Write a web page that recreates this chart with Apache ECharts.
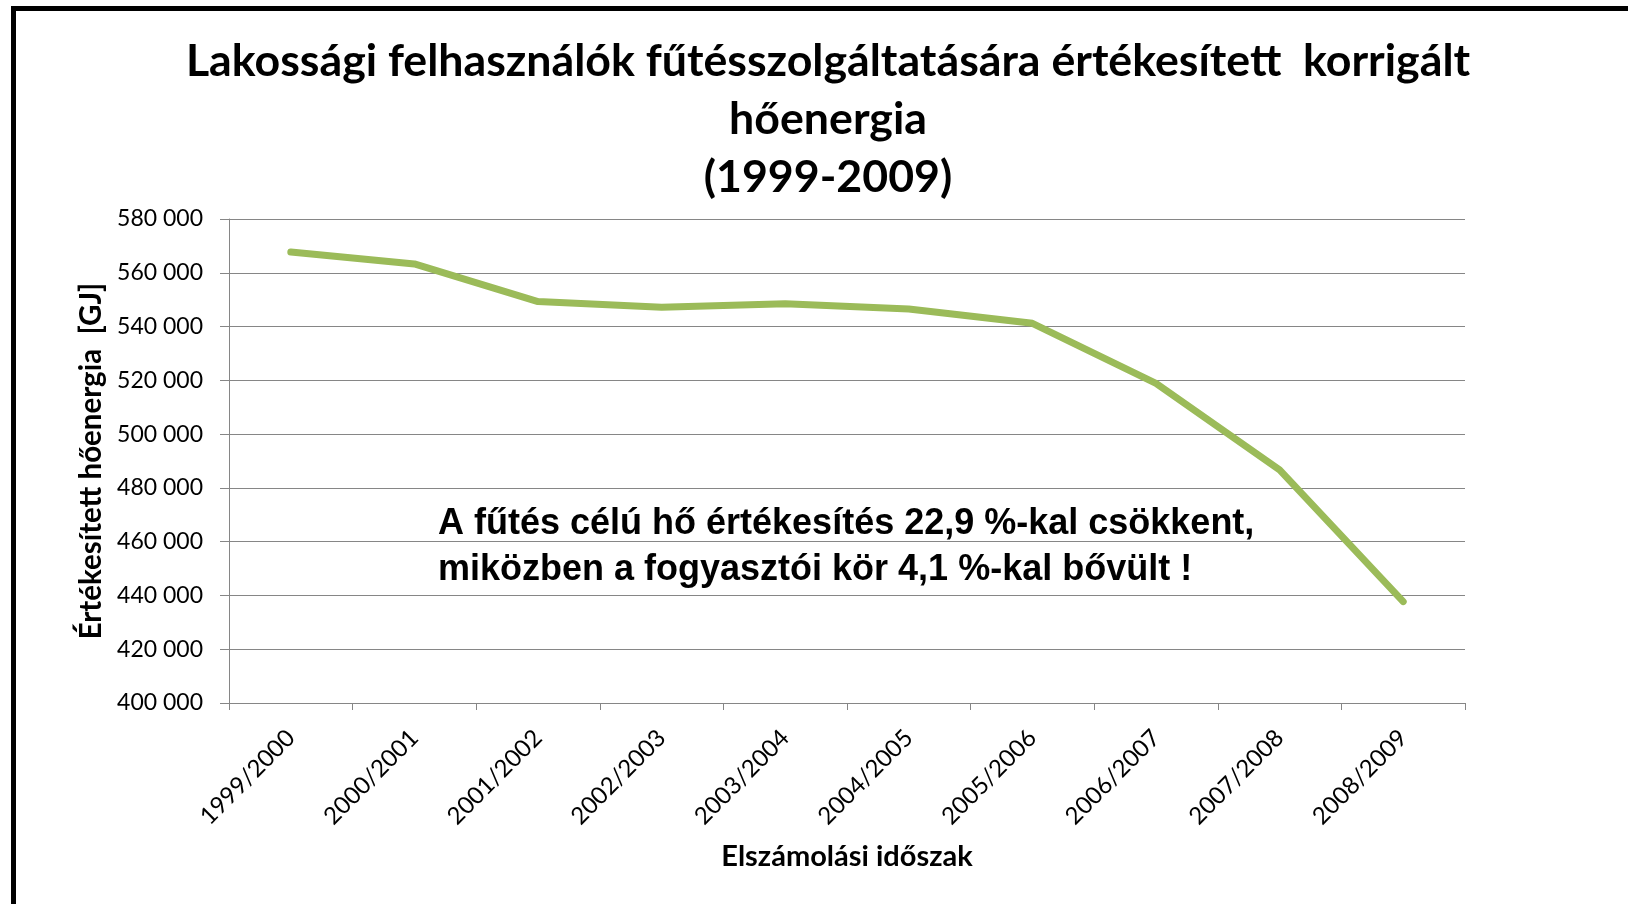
<!DOCTYPE html>
<html>
<head>
<meta charset="utf-8">
<script src="https://cdn.jsdelivr.net/npm/echarts@6/dist/echarts.min.js"></script>
<style>
html,body{margin:0;padding:0;background:#fff;}
#chart{width:1628px;height:904px;}
</style>
</head>
<body>
<div id="chart"></div>
<script>
const categories = ['1999/2000','2000/2001','2001/2002','2002/2003','2003/2004','2004/2005','2005/2006','2006/2007','2007/2008','2008/2009'];
const heatValues = [567700, 563300, 549300, 547200, 548500, 546500, 541200, 518900, 486700, 437700];
const yTickLabels = ['400 000','420 000','440 000','460 000','480 000','500 000','520 000','540 000','560 000','580 000'];
const titleText = 'Lakossági felhasználók fűtésszolgáltatására értékesített  korrigált\nhőenergia\n(1999-2009)';
const noteText = 'A fűtés célú hő értékesítés 22,9 %-kal csökkent,\nmiközben a fogyasztói kör 4,1 %-kal bővült !';
const yName = 'Értékesített hőenergia  [GJ]';
const xName = 'Elszámolási időszak';

const yMin = 400000, yMax = 580000, yStep = 20000;

const chart = echarts.init(document.getElementById('chart'));
chart.setOption({
  backgroundColor: '#ffffff',
  animation: false,
  title: [{
    text: noteText,
    left: 438,
    top: 501,
    padding: 0,
    textStyle: {fontFamily: 'Liberation Sans, Arial, sans-serif', fontWeight: 'bold', fontSize: 36, lineHeight: 46, color: '#000'}
  }],
  graphic: [
    {type: 'line', shape: {x1: 11, y1: 8.5, x2: 1628, y2: 8.5}, style: {stroke: '#000', lineWidth: 5}, z: 100},
    {type: 'line', shape: {x1: 13.5, y1: 6, x2: 13.5, y2: 904}, style: {stroke: '#000', lineWidth: 5}, z: 100},
    {type: 'text', x: 828, y: 33, z: 100, style: {
      text: titleText, textAlign: 'center', textVerticalAlign: 'top', align: 'center', verticalAlign: 'top',
      fontFamily: 'Lato, sans-serif', fontWeight: 'bold', fontSize: 44.7, lineHeight: 58, fill: '#000'
    }}
  ],
  grid: {left: 229, right: 163, top: 219, bottom: 201, containLabel: false},
  xAxis: {
    type: 'category',
    data: categories,
    boundaryGap: true,
    name: xName,
    nameLocation: 'middle',
    nameGap: 139,
    nameTextStyle: {fontFamily: 'Lato, sans-serif', fontWeight: 'bold', fontSize: 29, color: '#000'},
    axisLine: {show: true, lineStyle: {color: '#868686', width: 1}},
    axisTick: {show: true, length: 7, alignWithLabel: false, lineStyle: {color: '#868686'}},
    axisLabel: {rotate: 45, margin: 31, fontFamily: 'Lato, sans-serif', fontSize: 24, color: '#000', interval: 0}
  },
  yAxis: {
    type: 'value',
    min: yMin, max: yMax, interval: yStep,
    name: yName,
    nameLocation: 'middle',
    nameGap: 122,
    nameTextStyle: {fontFamily: 'Lato, sans-serif', fontWeight: 'bold', fontSize: 29.5, color: '#000'},
    axisLine: {show: true, lineStyle: {color: '#868686', width: 1}},
    axisTick: {show: true, length: 9, lineStyle: {color: '#868686'}},
    splitLine: {show: true, lineStyle: {color: '#868686', width: 1}},
    axisLabel: {
      margin: 26, fontFamily: 'Lato, sans-serif', fontSize: 23, color: '#000',
      formatter: function (v) { return yTickLabels[Math.round((v - yMin) / yStep)]; }
    }
  },
  series: [{
    type: 'line',
    data: heatValues,
    showSymbol: false,
    symbol: 'none',
    lineStyle: {color: '#9BBB59', width: 7, cap: 'round', join: 'round'},
    itemStyle: {color: '#9BBB59'},
    z: 3
  }]
});
</script>
</body>
</html>
